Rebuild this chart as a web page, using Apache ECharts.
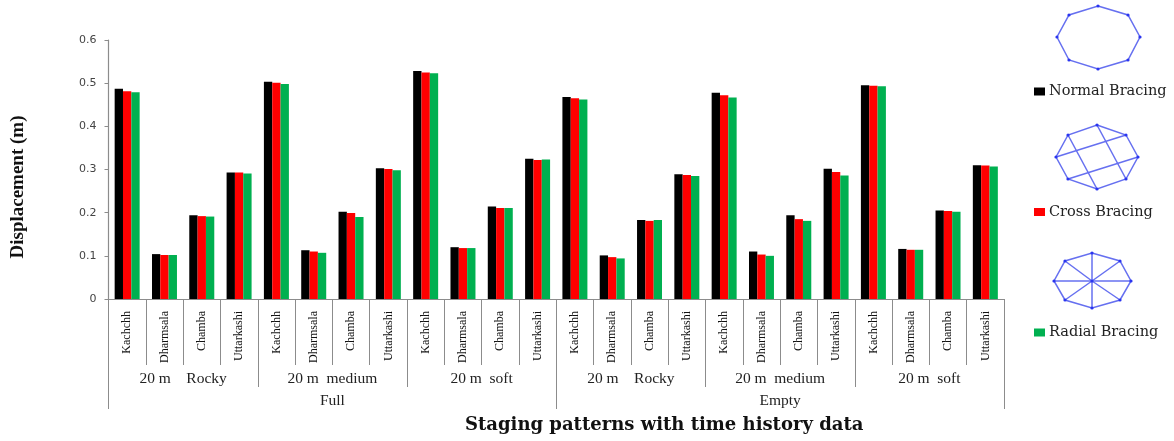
<!DOCTYPE html>
<html>
<head>
<meta charset="utf-8">
<style>
html, body { margin: 0; padding: 0; background: #fff; }
#chart { width: 1174px; height: 441px; }
</style>
<script src="https://cdn.jsdelivr.net/npm/echarts@6/dist/echarts.min.js"></script>
</head>
<body>
<div id="chart"></div>
<script>
var sites = ["Kachchh", "Dharmsala", "Chamba", "Uttarkashi"];
var soils = ["20 m    Rocky", "20 m  medium", "20 m  soft", "20 m    Rocky", "20 m  medium", "20 m  soft"];
var stagings = ["Full", "Empty"];

var normalBracing = [
    0.487, 0.104, 0.194, 0.293, 0.503, 0.113, 0.202, 0.303, 0.528, 0.120, 0.214, 0.325,
    0.468, 0.101, 0.183, 0.289, 0.478, 0.110, 0.194, 0.302, 0.495, 0.116, 0.205, 0.310
];
var crossBracing = [
    0.481, 0.102, 0.192, 0.293, 0.501, 0.110, 0.199, 0.301, 0.525, 0.118, 0.211, 0.322,
    0.465, 0.097, 0.181, 0.287, 0.472, 0.103, 0.185, 0.294, 0.494, 0.114, 0.204, 0.309
];
var radialBracing = [
    0.479, 0.102, 0.191, 0.291, 0.498, 0.107, 0.190, 0.298, 0.523, 0.118, 0.211, 0.323,
    0.462, 0.094, 0.183, 0.285, 0.467, 0.100, 0.181, 0.286, 0.493, 0.114, 0.202, 0.307
];

// bracing sketches on the right, node positions in page pixels
var normalNodes = [[1098, 6], [1128, 15], [1140, 37], [1128, 60], [1098, 69], [1069, 60], [1057, 37], [1069, 15]];
var crossNodes = [[1097, 125], [1126, 135], [1138, 157], [1126, 179], [1097, 189], [1068, 179], [1056, 157], [1068, 135]];
var crossLinks = [[0, 3], [1, 6], [7, 4], [2, 5]];
var radialNodes = [[1092, 253], [1120, 261], [1131, 281], [1120, 300], [1092, 308], [1065, 300], [1054, 281], [1065, 261]];
var radialHub = [1092, 281];

var blue = "#6670f0";

function ring(nodes) {
    var out = [{
        type: "polygon",
        shape: { points: nodes },
        style: { fill: null, stroke: blue, lineWidth: 1.5 }
    }];
    return out.concat(dots(nodes));
}

function dots(nodes) {
    return nodes.map(function (p) {
        return { type: "circle", z: 5, shape: { cx: p[0], cy: p[1], r: 1.6 }, style: { fill: "#2a35f0" } };
    });
}

function link(a, b) {
    return {
        type: "line",
        shape: { x1: a[0], y1: a[1], x2: b[0], y2: b[1] },
        style: { stroke: blue, lineWidth: 1.5 }
    };
}

var sketches = ring(normalNodes)
    .concat(ring(crossNodes))
    .concat(crossLinks.map(function (l) { return link(crossNodes[l[0]], crossNodes[l[1]]); }))
    .concat(ring(radialNodes))
    .concat(radialNodes.map(function (p) { return link(radialHub, p); }))
    .concat(dots([radialHub]));

var categories = [];
for (var i = 0; i < soils.length; i++) {
    categories = categories.concat(sites);
}

var axisGrey = "#8c8c8c";
var serif = "Liberation Serif";

function bar(name, values, color) {
    return {
        name: name,
        type: "bar",
        data: values,
        barGap: 0,
        barCategoryGap: "33%",
        itemStyle: { color: color }
    };
}

var chart = echarts.init(document.getElementById("chart"), null, { renderer: "canvas" });
chart.setOption({
    animation: false,
    backgroundColor: "#fff",
    grid: { left: 108.5, right: 170, top: 40, bottom: 142 },
    title: {
        text: "Staging patterns with time history data",
        left: 465,
        top: 416,
        padding: 0,
        textStyle: { fontFamily: "DejaVu Serif", fontWeight: "bold", fontSize: 18, color: "#111" }
    },
    legend: {
        orient: "vertical",
        left: 1034,
        top: 84,
        padding: 0,
        itemWidth: 11,
        itemHeight: 8,
        itemGap: 105.5,
        icon: "rect",
        selectedMode: false,
        textStyle: { fontFamily: "DejaVu Serif", fontSize: 14.5, color: "#222", padding: [0, 0, 0, -1] }
    },
    xAxis: [
        {
            type: "category",
            data: categories,
            axisLine: { lineStyle: { color: axisGrey, width: 1.2 } },
            axisTick: { show: true, length: 66, lineStyle: { color: axisGrey } },
            axisLabel: {
                interval: 0, rotate: 90, margin: 12, hideOverlap: false,
                fontFamily: serif, fontSize: 12, color: "#111"
            }
        },
        {
            type: "category",
            data: soils,
            position: "bottom",
            offset: 66,
            axisLine: { show: false },
            axisTick: { show: true, length: 22, lineStyle: { color: axisGrey } },
            axisLabel: { interval: 0, margin: 6, fontFamily: serif, fontSize: 15.5, color: "#222" }
        },
        {
            type: "category",
            data: stagings,
            position: "bottom",
            offset: 88,
            axisLine: { show: false },
            axisTick: { show: true, length: 22, lineStyle: { color: axisGrey } },
            axisLabel: { interval: 0, margin: 6, fontFamily: serif, fontSize: 15.5, color: "#222" }
        }
    ],
    yAxis: {
        type: "value",
        min: 0,
        max: 0.6,
        interval: 0.1,
        splitLine: { show: false },
        axisLine: { show: true, lineStyle: { color: axisGrey, width: 1.2 } },
        axisTick: { show: true, length: 4, lineStyle: { color: axisGrey } },
        axisLabel: {
            margin: 12,
            fontFamily: "DejaVu Sans",
            fontSize: 11,
            color: "#444",
            formatter: function (v) { return String(Math.round(v * 10) / 10); }
        }
    },
    series: [
        bar("Normal Bracing", normalBracing, "#000000"),
        bar("Cross Bracing", crossBracing, "#ff0000"),
        bar("Radial Bracing", radialBracing, "#00b050")
    ],
    graphic: sketches.concat([{
        type: "text",
        x: 18,
        y: 187,
        rotation: Math.PI / 2,
        style: {
            text: "Displacement (m)",
            fontFamily: serif,
            fontWeight: "bold",
            fontSize: 19,
            fill: "#111",
            align: "center",
            verticalAlign: "middle"
        }
    }])
});
</script>
</body>
</html>
